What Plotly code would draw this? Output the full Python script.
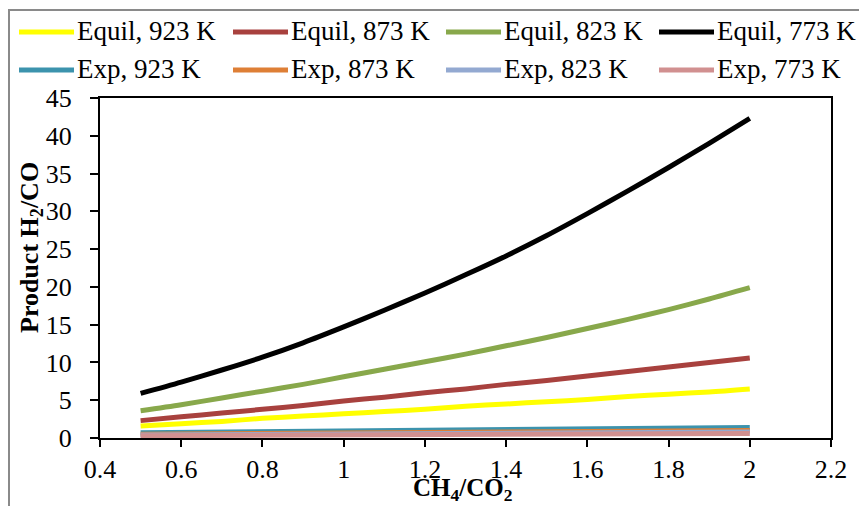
import plotly.graph_objects as go

# CH4/CO2 feed ratio
ratio = [0.5, 0.6, 0.7, 0.8, 0.9, 1.0, 1.1, 1.2, 1.3, 1.4, 1.5, 1.6, 1.7, 1.8, 1.9, 2.0]

# Equilibrium product H2/CO ratio at each temperature
equil_923 = [1.6, 1.9, 2.2, 2.6, 2.9, 3.2, 3.5, 3.8, 4.2, 4.5, 4.8, 5.1, 5.5, 5.8, 6.1, 6.5]
equil_873 = [2.3, 2.8, 3.3, 3.8, 4.3, 4.9, 5.4, 6.0, 6.5, 7.1, 7.6, 8.2, 8.8, 9.4, 10.0, 10.6]
equil_823 = [3.6, 4.4, 5.3, 6.2, 7.1, 8.1, 9.1, 10.1, 11.1, 12.2, 13.3, 14.5, 15.7, 17.0, 18.4, 19.9]
equil_773 = [5.9, 7.4, 9.0, 10.7, 12.6, 14.7, 16.9, 19.2, 21.6, 24.1, 26.8, 29.7, 32.7, 35.8, 39.0, 42.3]

# Experimental product H2/CO ratio
exp_ratio = [0.5, 2.0]
exp_923 = [0.7, 1.4]
exp_873 = [0.5, 1.0]
exp_823 = [0.4, 0.8]
exp_773 = [0.3, 0.6]

names = ["Equil, 923 K", "Equil, 873 K", "Equil, 823 K", "Equil, 773 K",
         "Exp, 923 K", "Exp, 873 K", "Exp, 823 K", "Exp, 773 K"]
colors = ["#FFFF00", "#A8413E", "#88A84B", "#000000",
          "#3C93AD", "#DE7F36", "#93A9D1", "#D19090"]
xs = [ratio] * 4 + [exp_ratio] * 4
ys = [equil_923, equil_873, equil_823, equil_773, exp_923, exp_873, exp_823, exp_773]

FONT = "Liberation Serif"
W, H = 859, 506
L, R, T, B = 100, 28, 98, 68
PW, PH = W - L - R, H - T - B


def px(x):
    return (x - L) / PW


def py(y):
    return (H - B - y) / PH


fig = go.Figure()
for x, y, n, c in zip(xs, ys, names, colors):
    fig.add_trace(go.Scatter(x=x, y=y, mode="lines", name=n,
                             line=dict(color=c, width=5, shape="spline", smoothing=0.8),
                             showlegend=False))

shapes = []
annotations = []

# Legend: two rows of four entries
col_x = [19, 233, 446, 659]
row_y = [32, 70]
for i, (n, c) in enumerate(zip(names, colors)):
    cx = col_x[i % 4]
    ry = row_y[i // 4]
    shapes.append(dict(type="line", xref="paper", yref="paper",
                       x0=px(cx), x1=px(cx + 55), y0=py(ry), y1=py(ry),
                       line=dict(color=c, width=5)))
    annotations.append(dict(text=n, xref="paper", yref="paper",
                            x=px(cx + 56), y=py(ry - 1), xanchor="left", yanchor="middle",
                            showarrow=False, font=dict(family=FONT, size=27, color="black")))

# Outer chart frame
shapes.append(dict(type="line", xref="paper", yref="paper",
                   x0=px(9), x1=px(9), y0=py(10), y1=py(520),
                   line=dict(color="#8A8A8A", width=2)))
shapes.append(dict(type="line", xref="paper", yref="paper",
                   x0=px(8), x1=px(870), y0=py(10), y1=py(10),
                   line=dict(color="#8A8A8A", width=2)))

# Axis titles
annotations.append(dict(text="<b>CH<sub>4</sub>/CO<sub>2</sub></b>", xref="paper", yref="paper",
                        x=px(462), y=py(490), xanchor="center", yanchor="middle",
                        showarrow=False, font=dict(family=FONT, size=25, color="black")))
annotations.append(dict(text="<b>Product H<sub>2</sub>/CO</b>", xref="paper", yref="paper",
                        x=px(31), y=py(248), xanchor="center", yanchor="middle",
                        textangle=-90, showarrow=False,
                        font=dict(family=FONT, size=26, color="black")))

fig.update_layout(
    width=W, height=H,
    margin=dict(l=L, r=R, t=T, b=B),
    paper_bgcolor="white", plot_bgcolor="white",
    font=dict(family=FONT, size=25, color="black"),
    shapes=shapes, annotations=annotations,
    showlegend=False,
)
fig.update_xaxes(range=[0.4, 2.2], dtick=0.2, tick0=0.4, showgrid=False, zeroline=False,
                 showline=True, linecolor="black", linewidth=2, mirror=True,
                 ticks="outside", ticklen=7, tickwidth=2, tickcolor="black",
                 ticklabelstandoff=0,
                 tickfont=dict(family=FONT, size=26, color="black"))
fig.update_yaxes(range=[0, 45], dtick=5, showgrid=False, zeroline=False,
                 showline=True, linecolor="black", linewidth=2, mirror=True,
                 ticks="outside", ticklen=8, tickwidth=2, tickcolor="black",
                 ticksuffix="\u00a0\u00a0",
                 tickfont=dict(family=FONT, size=26, color="black"))

fig.write_html("out.html")
